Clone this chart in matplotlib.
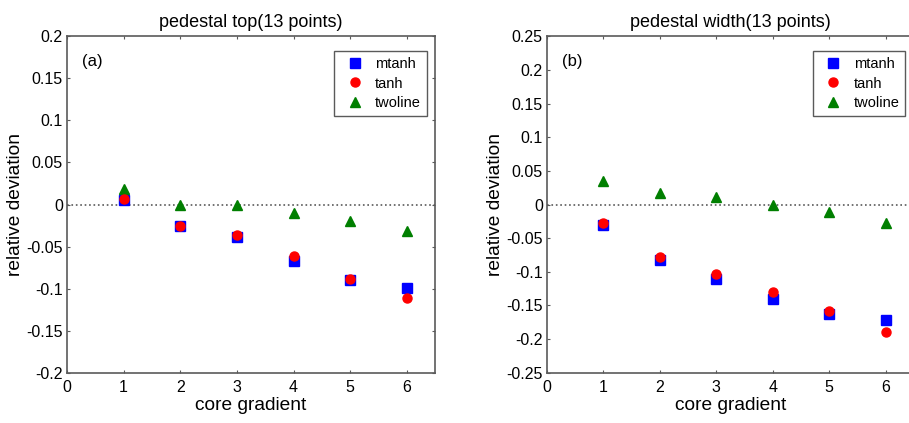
import numpy as np
import matplotlib.pyplot as plt

plt.rcParams['font.family'] = ['Liberation Sans', 'DejaVu Sans']

gradient = [1, 2, 3, 4, 5, 6]

# relative deviation of pedestal top
top_mtanh   = [0.005, -0.026, -0.039, -0.067, -0.090, -0.099]
top_tanh    = [0.006, -0.025, -0.036, -0.061, -0.089, -0.111]
top_twoline = [0.018, 0.000, 0.000, -0.010, -0.020, -0.031]

# relative deviation of pedestal width
wid_mtanh   = [-0.031, -0.082, -0.111, -0.140, -0.163, -0.171]
wid_tanh    = [-0.027, -0.078, -0.103, -0.130, -0.158, -0.189]
wid_twoline = [0.035, 0.017, 0.011, 0.000, -0.011, -0.028]

frame = '#5a5a5a'

fig = plt.figure(figsize=(9.09, 4.23), dpi=100)
ax1 = fig.add_axes([0.0737, 0.119, 0.405, 0.795])
ax2 = fig.add_axes([0.6018, 0.119, 0.4035, 0.795])


def fmt(v):
    s = ('%.2f' % v).rstrip('0').rstrip('.')
    return '0' if s in ('0', '-0') else s


def panel(ax, m, t, w, title, tag, ylim, yticks):
    ax.axhline(0, color=frame, ls=':', lw=1.2, zorder=1)
    ax.plot(gradient, m, 's', color='#0000ff', ms=7, label='mtanh', zorder=3)
    ax.plot(gradient, t, 'o', color='#ff0000', ms=6.5, label='tanh', zorder=4)
    ax.plot(gradient, w, '^', color='#007f00', ms=7.5, label='twoline', zorder=3)
    ax.set_xlim(0, 6.5)
    ax.set_ylim(*ylim)
    ax.set_xticks(range(7))
    ax.set_yticks(yticks)
    ax.set_yticklabels([fmt(v) for v in yticks])
    ax.tick_params(direction='in', top=True, right=True, length=2.5,
                   color=frame, labelsize=11.5, pad=3)
    ax.tick_params(axis='x', pad=5)
    for s in ax.spines.values():
        s.set_color(frame)
        s.set_linewidth(1.2)
    ax.set_title(title, fontsize=13, pad=7)
    ax.set_xlabel('core gradient', fontsize=13.8, labelpad=2)
    ax.set_ylabel('relative deviation', fontsize=13.8, labelpad=2)
    ax.text(0.068, 0.925, tag, transform=ax.transAxes, fontsize=12,
            ha='center', va='center')
    leg = ax.legend(loc='upper right', bbox_to_anchor=(0.977, 0.957),
                    borderaxespad=0, numpoints=1, fontsize=10.5,
                    fancybox=False, framealpha=1, edgecolor=frame,
                    handlelength=2.0, handletextpad=0.4, labelspacing=0.4,
                    borderpad=0.4)
    leg.get_frame().set_linewidth(1.0)


panel(ax1, top_mtanh, top_tanh, top_twoline, 'pedestal top(13 points)', '(a)',
      (-0.2, 0.2), np.arange(-0.2, 0.21, 0.05))
panel(ax2, wid_mtanh, wid_tanh, wid_twoline, 'pedestal width(13 points)', '(b)',
      (-0.25, 0.25), np.arange(-0.25, 0.26, 0.05))

fig.savefig('out.png', dpi=100)
